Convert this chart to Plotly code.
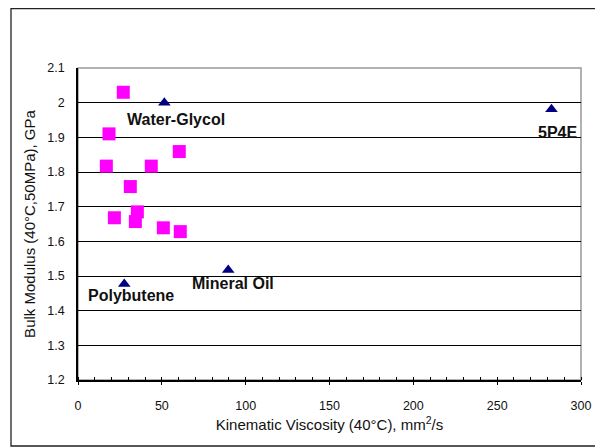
import plotly.graph_objects as go

# Squares (magenta) series
sq_visc = [27.0, 18.5, 60.4, 16.9, 43.7, 31.2, 35.4, 21.7, 34.2, 50.9, 61.0]
sq_bulk = [2.030, 1.910, 1.859, 1.817, 1.817, 1.758, 1.685, 1.668, 1.657, 1.639, 1.628]

# Labelled fluids (triangles)
tri_names = ["Water-Glycol", "Polybutene", "Mineral Oil", "5P4E"]
tri_visc = [51.5, 27.6, 89.6, 282.4]
tri_bulk = [2.000, 1.477, 1.517, 1.981]

# label offsets in pixels (style)
lab_dx = [12, 7, 5, 6]
lab_dy = [-17, -12, -13, -23]

x_ticks = [0, 50, 100, 150, 200, 250, 300]
y_ticks = [1.2, 1.3, 1.4, 1.5, 1.6, 1.7, 1.8, 1.9, 2.0, 2.1]

FONT = "Arial, Liberation Sans, sans-serif"

fig = go.Figure()
fig.add_trace(go.Scatter(
    x=sq_visc, y=sq_bulk, mode="markers",
    marker=dict(symbol="square", size=13, color="#FF00FF", line=dict(width=0)),
    showlegend=False, cliponaxis=False))
fig.add_trace(go.Scatter(
    x=tri_visc, y=tri_bulk, mode="markers",
    marker=dict(symbol="triangle-up", size=11, color="#000080", line=dict(width=0)),
    showlegend=False, cliponaxis=False))

for name, xv, yv, dx, dy in zip(tri_names, tri_visc, tri_bulk, lab_dx, lab_dy):
    fig.add_annotation(x=xv, y=yv, text="<b>%s</b>" % name, showarrow=False,
                       xshift=dx, yshift=dy, xanchor="center", yanchor="middle",
                       font=dict(family=FONT, size=16, color="#111111"))

# plot-area gray border
fig.add_shape(type="rect", xref="paper", yref="paper", x0=0, x1=1, y0=0, y1=1,
              line=dict(color="#999999", width=1.5), layer="below")
# outer chart border
fig.add_shape(type="rect", xref="paper", yref="paper", x0=-0.1332, x1=1.0378,
              y0=-0.2115, y1=1.1907, line=dict(color="#222222", width=1.3))

fig.update_layout(
    width=595, height=440,
    margin=dict(l=70, r=22, t=60, b=68),
    paper_bgcolor="white", plot_bgcolor="white",
    font=dict(family=FONT, size=12, color="#111111"),
)
fig.update_xaxes(
    range=[0, 300], tickvals=x_ticks, showgrid=False, zeroline=False,
    showline=True, linecolor="black", linewidth=1.5,
    ticks="outside", ticklen=3, tickcolor="black", tickwidth=1,
    ticklabelstandoff=10,
    minor=dict(dtick=10, ticks="inside", ticklen=3, tickcolor="black", tickwidth=1, showgrid=False),
    tickfont=dict(size=12.5, color="#111111"),
    title=dict(text="Kinematic Viscosity (40°C), mm<sup>2</sup>/s", font=dict(size=15, color="#111111"), standoff=8),
)
fig.update_yaxes(
    range=[1.2, 2.1], tickvals=y_ticks, showgrid=True, gridcolor="black", gridwidth=1,
    zeroline=False, showline=True, linecolor="black", linewidth=1.5,
    ticks="", ticklabelstandoff=9,
    tickfont=dict(size=12.5, color="#111111"),
    title=dict(text="Bulk Modulus (40°C,50MPa), GPa", font=dict(size=15, color="#111111"), standoff=8),
)

fig.write_html("out.html")
